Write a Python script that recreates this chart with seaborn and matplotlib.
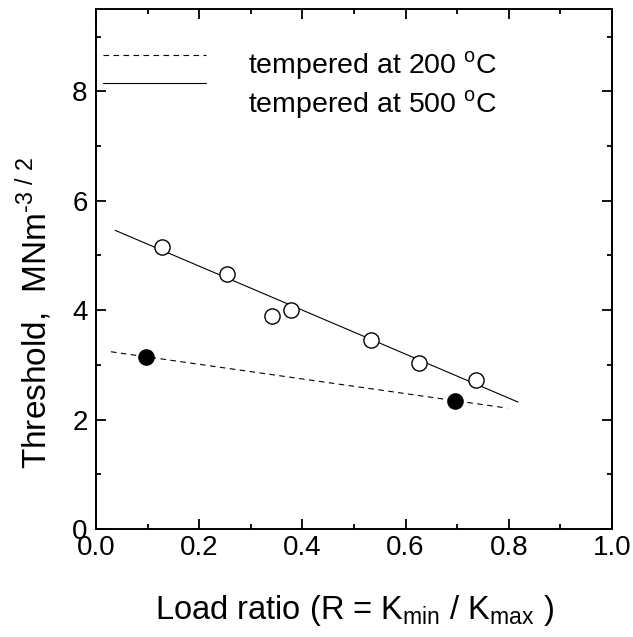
import matplotlib
matplotlib.use("Agg")
import matplotlib.pyplot as plt
import seaborn as sns
import pandas as pd
from matplotlib.ticker import MultipleLocator

# data
r_500 = [0.127, 0.254, 0.342, 0.377, 0.533, 0.626, 0.736]
k_500 = [5.15, 4.67, 3.90, 4.00, 3.45, 3.04, 2.73]
r_200 = [0.096, 0.696]
k_200 = [3.14, 2.34]
fit500_x = [0.037, 0.818]
fit500_y = [5.46, 2.32]
fit200_x = [0.029, 0.797]
fit200_y = [3.24, 2.21]
labels = ["tempered at 200 $^{\\mathregular{o}}$C", "tempered at 500 $^{\\mathregular{o}}$C"]
xticks = [0.0, 0.2, 0.4, 0.6, 0.8, 1.0]
yticks = [0, 2, 4, 6, 8]

sns.set_style("ticks")
plt.rcParams["font.family"] = ["Liberation Sans", "DejaVu Sans"]
plt.rcParams["mathtext.fontset"] = "custom"
plt.rcParams["mathtext.rm"] = "Liberation Sans"
for k in ["text.color", "axes.labelcolor", "xtick.color", "ytick.color", "axes.edgecolor"]:
    plt.rcParams[k] = "black"

fig = plt.figure(figsize=(6.33, 6.37), dpi=100)
ax = fig.add_axes([96 / 633, 1 - 529 / 637, (612 - 96) / 633, (529 - 9.3) / 637])

df200 = pd.DataFrame({"x": fit200_x, "y": fit200_y})
df500 = pd.DataFrame({"x": fit500_x, "y": fit500_y})
sns.lineplot(data=df200, x="x", y="y", ax=ax, color="black", lw=0.8,
             linestyle=(0, (5, 4)), label=labels[0])
sns.lineplot(data=df500, x="x", y="y", ax=ax, color="black", lw=0.8,
             label=labels[1])
sns.scatterplot(x=r_500, y=k_500, ax=ax, s=120, facecolor="white",
                edgecolor="black", linewidth=1.0, zorder=3)
sns.scatterplot(x=r_200, y=k_200, ax=ax, s=120, color="black",
                edgecolor="black", linewidth=1.0, zorder=3)

ax.set_xlim(0, 1.0)
ax.set_ylim(0, 9.5)
ax.set_xticks(xticks)
ax.set_xticklabels([f"{v:.1f}" for v in xticks])
ax.set_yticks(yticks)
ax.set_yticklabels([str(v) for v in yticks])
ax.xaxis.set_minor_locator(MultipleLocator(0.1))
ax.yaxis.set_minor_locator(MultipleLocator(1))
ax.tick_params(which="both", direction="in", top=True, right=True,
               width=1.3, labelsize=20)
ax.tick_params(axis="x", pad=4)
ax.tick_params(axis="y", pad=6)
ax.tick_params(which="major", length=7)
ax.tick_params(which="minor", length=3.5)
for sp in ax.spines.values():
    sp.set_linewidth(1.4)

ax.set_xlabel("Load ratio (R = K$_{\\mathregular{min}}$ / K$_{\\mathregular{max}}$ )",
              fontsize=23.5, labelpad=23)
ax.set_ylabel("Threshold,  MNm$^{\\mathregular{\u2010 3\\ /\\ 2}}$", fontsize=24)
ax.yaxis.set_label_coords(-0.082, 0.417)

handles, labs = ax.get_legend_handles_labels()
leg = ax.legend(handles[:2], labs[:2], loc="upper left", bbox_to_anchor=(-0.037, 0.972),
                frameon=False, fontsize=20.5, handlelength=3.65, handletextpad=1.47,
                labelspacing=0.2)
# legend lines sit above their text rows in the reference
for line, dy in zip(leg.get_lines(), [6.0, 13.5]):
    yd = line.get_ydata()
    line.set_ydata([v + dy for v in yd])

fig.savefig("out.png", dpi=100)
